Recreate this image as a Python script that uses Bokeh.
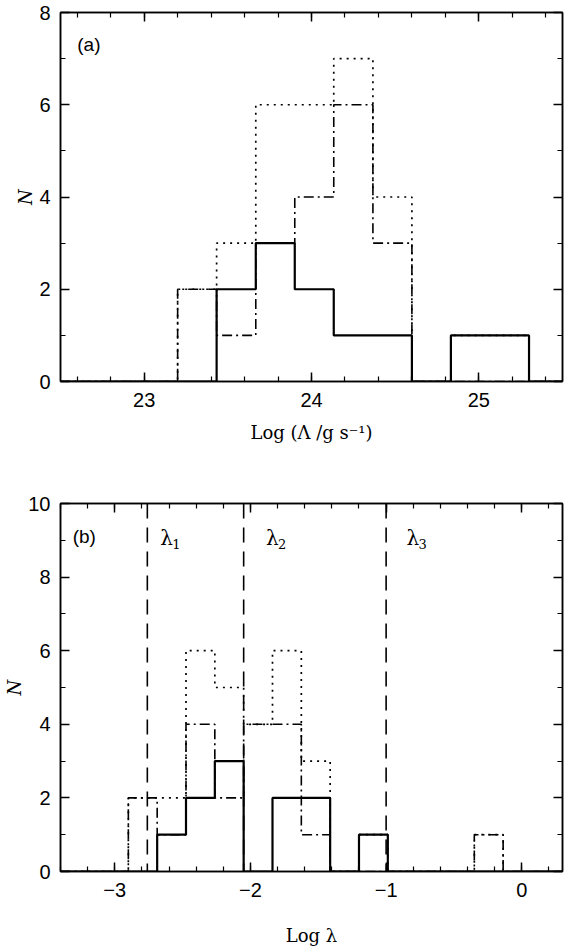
from bokeh.plotting import figure
from bokeh.layouts import column
from bokeh.models import (Range1d, LinearAxis, SingleIntervalTicker,
                          CustomJSTickFormatter, Span, Label)
from bokeh.embed import file_html
from bokeh.resources import INLINE

# ---------------- data ----------------
# Panel (a): Log (Lambda / g s^-1)
a_xrange = (22.5, 25.5)
a_yrange = (0, 8)
a_edges = [23.2, 23.433, 23.667, 23.9, 24.133, 24.367, 24.6, 24.833, 25.067, 25.3]
a_solid = [0, 2, 3, 2, 1, 1, 0, 1, 1]
a_dashdot = [2, 1, 3, 4, 6, 3, 0, 0, 0]
a_dotted = [2, 3, 6, 6, 7, 4, 0, 1, 1]

# Panel (b): Log lambda
b_xrange = (-3.4, 0.3)
b_yrange = (0, 10)
b_edges = [-2.9, -2.6875, -2.475, -2.2625, -2.05, -1.8375, -1.625, -1.4125,
           -1.2, -0.9875, -0.775, -0.5625, -0.35, -0.1375]
b_solid = [0, 1, 2, 3, 0, 2, 2, 0, 1, 0, 0, 0, 0]
b_dashdot = [2, 1, 4, 2, 4, 4, 1, 0, 0, 0, 0, 0, 1]
b_dotted = [2, 2, 6, 5, 4, 6, 3, 0, 1, 0, 0, 0, 1]
b_lambda = [-2.76, -2.05, -1.0]
b_lambda_sub = ["1", "2", "3"]
b_lambda_label_x = [-2.665, -1.885, -0.85]
b_lambda_label_y = 9.05

TICK_FONT = "Liberation Sans"
SERIF = "DejaVu Serif"

neg_fmt = CustomJSTickFormatter(code="return tick < 0 ? '\\u2212' + Math.abs(tick) : String(tick);")


def steps(edges, counts, xr):
    x = [xr[0]] + list(edges) + [xr[1]]
    y = [0] + list(counts) + [0, 0]
    return x, y


def make_fig(xr, yr, height, mbt, mbb, yint, xlabel, xlab_standoff):
    p = figure(width=564, height=height, x_range=Range1d(*xr), y_range=Range1d(*yr),
               output_backend="svg", toolbar_location=None,
               min_border_left=60, min_border_right=2,
               min_border_top=mbt, min_border_bottom=mbb)
    p.grid.visible = False
    p.outline_line_color = "black"
    p.outline_line_width = 1.5
    p.background_fill_color = "white"
    p.border_fill_color = "white"

    p.xaxis.ticker = SingleIntervalTicker(interval=1, num_minor_ticks=5)
    p.yaxis.ticker = SingleIntervalTicker(interval=yint, num_minor_ticks=yint)
    p.xaxis.formatter = neg_fmt
    for ax in (p.xaxis[0], p.yaxis[0]):
        ax.major_tick_in = 9
        ax.major_tick_out = 0
        ax.minor_tick_in = 5
        ax.minor_tick_out = 0
        ax.axis_line_width = 1.5
        ax.major_tick_line_width = 1.5
        ax.minor_tick_line_width = 1.2
        ax.major_label_text_font = TICK_FONT
        ax.major_label_text_font_size = "20px"
        ax.major_label_text_color = "black"
        ax.axis_label_text_font = SERIF
        ax.axis_label_text_font_size = "18px"
        ax.axis_label_text_color = "black"
    p.xaxis.major_label_standoff = 11
    p.xaxis.axis_label = xlabel
    p.xaxis.axis_label_text_font_style = "normal"
    p.xaxis.axis_label_standoff = xlab_standoff
    p.yaxis.major_label_standoff = 10
    p.yaxis.axis_label = "N"
    p.yaxis.axis_label_text_font_style = "italic"
    p.yaxis.axis_label_standoff = 0

    blank = CustomJSTickFormatter(code="return '';")
    top = LinearAxis(ticker=SingleIntervalTicker(interval=1, num_minor_ticks=5), formatter=blank)
    right = LinearAxis(ticker=SingleIntervalTicker(interval=yint, num_minor_ticks=yint), formatter=blank)
    for ax in (top, right):
        ax.major_tick_in = 9
        ax.major_tick_out = 0
        ax.minor_tick_in = 5
        ax.minor_tick_out = 0
        ax.axis_line_width = 1.5
        ax.major_tick_line_width = 1.5
        ax.minor_tick_line_width = 1.2
        ax.major_label_standoff = 0
        ax.major_label_text_font_size = "1px"
    p.add_layout(top, "above")
    p.add_layout(right, "right")
    return p


def draw_hists(p, edges, solid, dashdot, dotted, xr):
    x, y = steps(edges, dotted, xr)
    p.step(x, y, mode="after", line_color="black", line_width=1.7, line_dash="2 5")
    x, y = steps(edges, dashdot, xr)
    p.step(x, y, mode="after", line_color="black", line_width=1.6, line_dash="10 4 2 4")
    x, y = steps(edges, solid, xr)
    p.step(x, y, mode="after", line_color="black", line_width=2.2)


# ---------------- panel (a) ----------------
pa = make_fig(a_xrange, a_yrange, 466, 12, 85, 2, "Log (\u039b /g s\u207b\u00b9)", 12)
draw_hists(pa, a_edges, a_solid, a_dashdot, a_dotted, a_xrange)
pa.add_layout(Label(x=22.6, y=7.3, text="(a)", text_font=TICK_FONT, text_font_size="19px",
                    text_baseline="middle", text_align="left", text_color="black"))

# ---------------- panel (b) ----------------
pb = make_fig(b_xrange, b_yrange, 482, 37, 72, 2, "Log \u03bb", 25)
for lx in b_lambda:
    pb.add_layout(Span(location=lx, dimension="height", line_color="black",
                       line_width=1.6, line_dash="15 9"))
draw_hists(pb, b_edges, b_solid, b_dashdot, b_dotted, b_xrange)
pb.add_layout(Label(x=-3.31, y=9.1, text="(b)", text_font=TICK_FONT, text_font_size="19px",
                    text_baseline="middle", text_align="left", text_color="black"))
for lx, sub in zip(b_lambda_label_x, b_lambda_sub):
    pb.add_layout(Label(x=lx, y=b_lambda_label_y, text="\u03bb", text_font=SERIF,
                        text_font_size="20px", text_baseline="middle", text_align="left",
                        text_color="black"))
    pb.add_layout(Label(x=lx, y=b_lambda_label_y, x_offset=12, y_offset=-6, text=sub,
                        text_font=SERIF, text_font_size="13px", text_baseline="middle",
                        text_align="left", text_color="black"))

layout = column(pa, pb, spacing=0)
open("out.html", "w").write(file_html(layout, INLINE))
